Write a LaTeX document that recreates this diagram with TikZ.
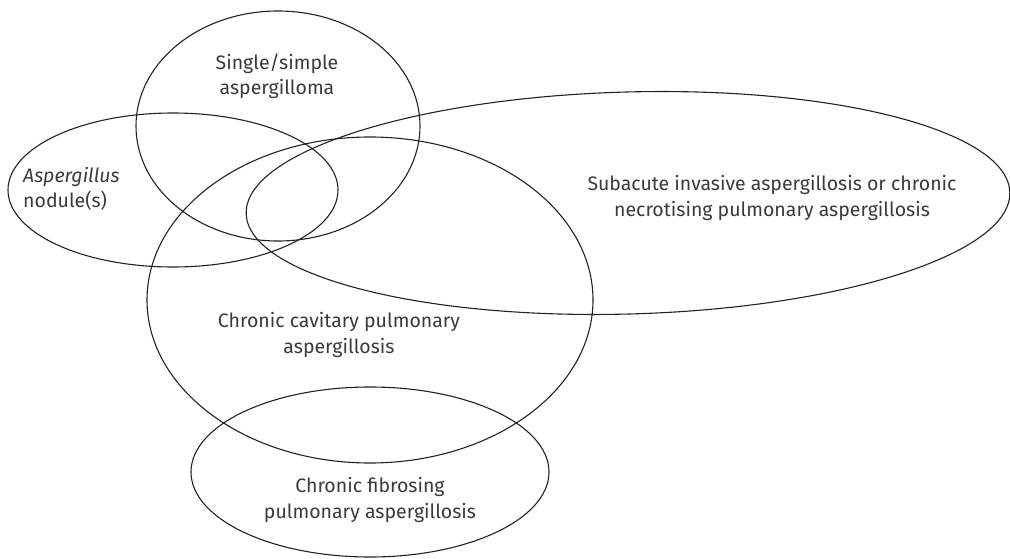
\documentclass[tikz,border=0pt]{standalone}
\usepackage{fontspec}
\setmainfont{Fira Sans}
\usepackage{tikz}
\definecolor{txtgray}{HTML}{3A3A3A}
\definecolor{linegray}{HTML}{222222}
\tikzset{
	setline/.style = {draw=linegray, line width=1.1pt},% contour d'ensemble
	setlabel/.style = {align=center, inner sep=0pt, text=txtgray,
		font=\fontsize{19.5pt}{25.5pt}\selectfont}% etiquette d'ensemble
}
\begin{document}
\begin{tikzpicture}[x=1pt,y=1pt]
			\useasboundingbox (0,0) rectangle (1010,558);
			% ensembles
			\draw[setline] (278,432) ellipse [x radius=142, y radius=115];
			\draw[setline] (173,368) ellipse [x radius=165, y radius=77];
			\draw[setline, rotate around={1.6:(628,355)}] (628,355) ellipse [x radius=382, y radius=111];
			\draw[setline] (370,258) ellipse [x radius=223, y radius=163];
			\draw[setline] (370,86) ellipse [x radius=179, y radius=85];
			% etiquettes
			\node[setlabel] (aspergilloma) at (277,482) {Single/simple\\aspergilloma};
			\node[setlabel, align=left, anchor=west] (nodule) at (23,369) {\textit{Aspergillus}\\nodule(s)};
			\node[setlabel] (subacute) at (772,360) {Subacute invasive aspergillosis or chronic\\necrotising pulmonary aspergillosis};
			\node[setlabel] (cavitary) at (339,223) {Chronic cavitary pulmonary\\aspergillosis};
			\node[setlabel] (fibrosing) at (370,58) {Chronic fibrosing\\pulmonary aspergillosis};
\end{tikzpicture}
\end{document}
